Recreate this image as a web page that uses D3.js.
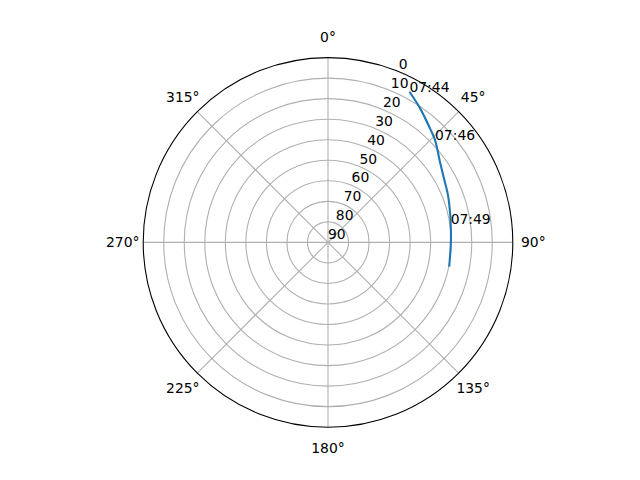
<!DOCTYPE html>
<html>
<head>
<meta charset="utf-8">
<script src="https://cdn.jsdelivr.net/npm/d3@7"></script>
<style>
  body { margin: 0; background: #fff; }
  text { font-family: "DejaVu Sans", sans-serif; font-size: 13.9px; fill: #000; }
</style>
</head>
<body>
<div id="chart"></div>
<script>
// satellite track: azimuth (deg, clockwise from north) and elevation (deg)
const azimuth = [28.4, 34.5, 41.8, 46.3, 54.2, 61.8, 68.5, 77.4, 81.5, 86.6, 91.2, 101.3];
const elevation = [6.6, 10.8, 15.5, 17.9, 22.8, 25.7, 27.2, 29.0, 29.6, 30.0, 30.2, 29.8];

// time annotations
const timeLabels = ["07:44", "07:46", "07:49"];
const timeAz = [28.4, 46.3, 81.5];
const timeEl = [6.6, 17.9, 29.6];

// ticks
const angleTicks = [0, 45, 90, 135, 180, 225, 270, 315];
const radialTicks = [0, 10, 20, 30, 40, 50, 60, 70, 80, 90];

const WIDTH = 640;
const HEIGHT = 480;
const CX = 328;
const CY = 242.4;
const R = 184.8;

const svg = d3.select("#chart")
  .append("svg")
  .attr("width", WIDTH)
  .attr("height", HEIGHT);

const g = svg.append("g").attr("transform", `translate(${CX}, ${CY})`);

// elevation 90 at the centre, 0 on the rim
const r = d3.scaleLinear().domain([90, 0]).range([0, R]);
const rad = (deg) => deg * Math.PI / 180;
const px = (az, el) => r(el) * Math.sin(rad(az));
const py = (az, el) => -r(el) * Math.cos(rad(az));

// grid circles
g.selectAll("circle.grid")
  .data(radialTicks.filter((d) => d > 0 && d < 90))
  .enter()
  .append("circle")
  .attr("class", "grid")
  .attr("r", (d) => r(d))
  .attr("fill", "none")
  .attr("stroke", "#b0b0b0")
  .attr("stroke-width", 1.1);

// spokes
g.selectAll("line.spoke")
  .data(angleTicks)
  .enter()
  .append("line")
  .attr("class", "spoke")
  .attr("x1", 0)
  .attr("y1", 0)
  .attr("x2", (d) => px(d, 0))
  .attr("y2", (d) => py(d, 0))
  .attr("stroke", "#b0b0b0")
  .attr("stroke-width", 1.1);

// outer spine
g.append("circle")
  .attr("r", r(0))
  .attr("fill", "none")
  .attr("stroke", "#000")
  .attr("stroke-width", 1.1);

// angle labels
g.selectAll("text.angle")
  .data(angleTicks)
  .enter()
  .append("text")
  .attr("class", "angle")
  .attr("x", (d) => (R + 20.5) * Math.sin(rad(d)))
  .attr("y", (d) => -(R + 20.5) * Math.cos(rad(d)))
  .attr("text-anchor", "middle")
  .attr("dominant-baseline", "central")
  .text((d) => d + "°");

// radial labels along 22.5°
g.selectAll("text.rlabel")
  .data(radialTicks)
  .enter()
  .append("text")
  .attr("class", "rlabel")
  .attr("x", (d) => px(22.5, d))
  .attr("y", (d) => py(22.5, d) - 3)
  .attr("text-anchor", "start")
  .text((d) => d);

// track
const track = azimuth.map((a, i) => [rad(a), r(elevation[i])]);
const line = d3.lineRadial().curve(d3.curveCatmullRom);
g.append("path")
  .attr("d", line(track))
  .attr("fill", "none")
  .attr("stroke", "#1f77b4")
  .attr("stroke-width", 2.1);

// time annotations
g.selectAll("text.time")
  .data(timeLabels)
  .enter()
  .append("text")
  .attr("class", "time")
  .attr("x", (d, i) => px(timeAz[i], timeEl[i]))
  .attr("y", (d, i) => py(timeAz[i], timeEl[i]))
  .attr("text-anchor", "start")
  .text((d) => d);
</script>
</body>
</html>
